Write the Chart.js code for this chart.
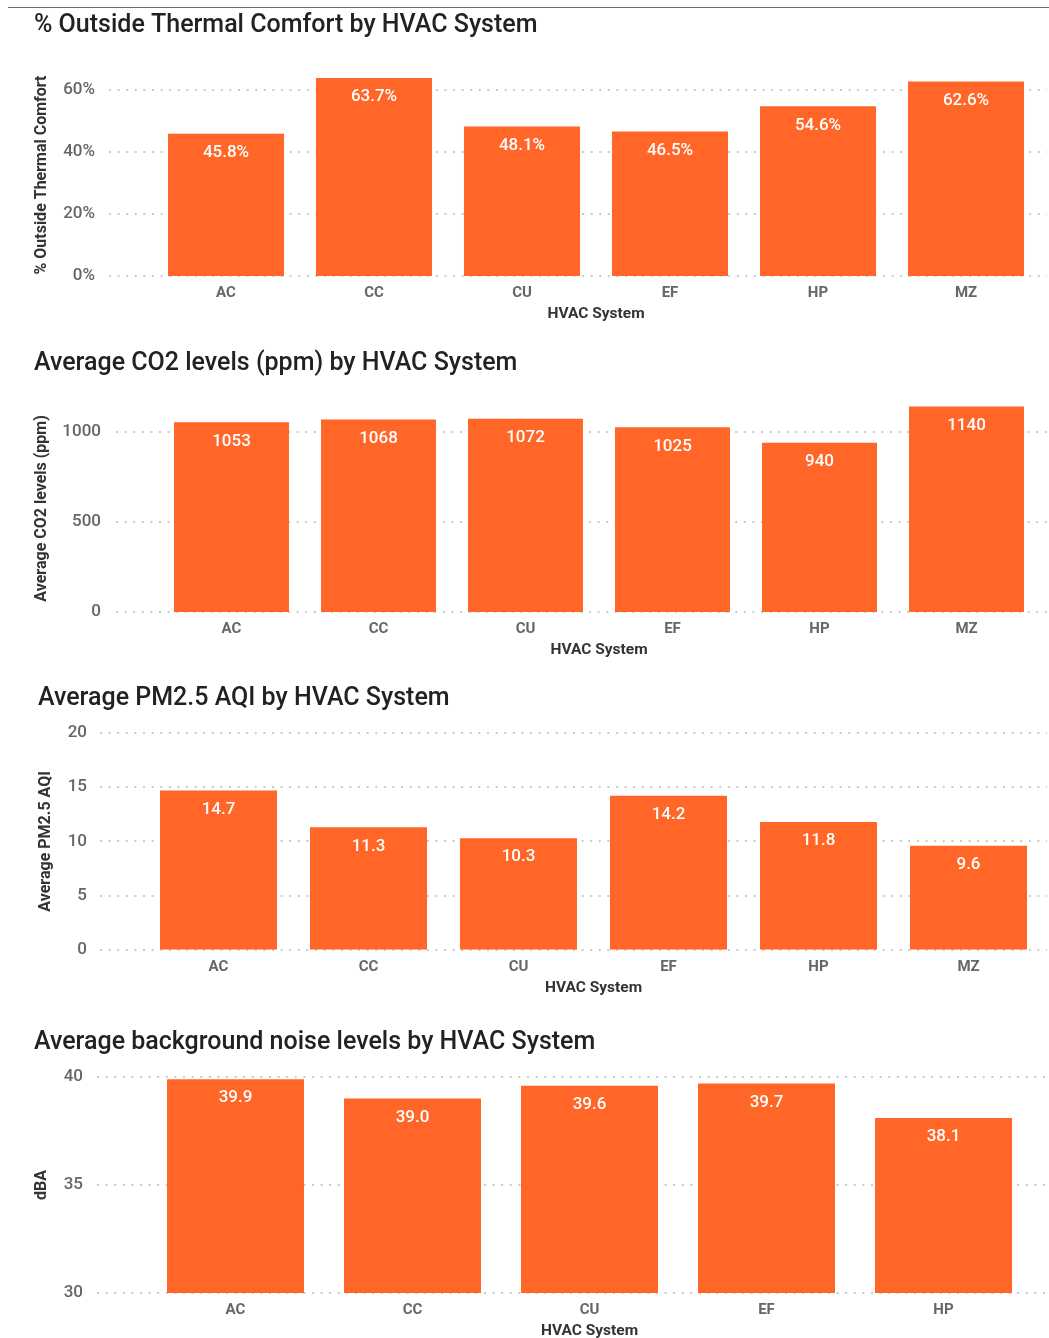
<!DOCTYPE html>
<html>
<head>
<meta charset="utf-8">
<script src="https://cdn.jsdelivr.net/npm/chart.js@4.4.1/dist/chart.umd.min.js"></script>
<style>
  body { margin: 0; background: #fff; width: 1049px; height: 1338px; position: relative; overflow: hidden; }
  canvas { position: absolute; left: 0; }
  #rule { position: absolute; left: 8px; top: 7px; width: 1041px; height: 0; border-top: 1px solid #6e6e6e; z-index: 2; }
</style>
</head>
<body>
<div id="rule"></div>
<canvas id="c1" width="1049" height="335" style="top:0px"></canvas>
<canvas id="c2" width="1049" height="335" style="top:335px"></canvas>
<canvas id="c3" width="1049" height="340" style="top:670px"></canvas>
<canvas id="c4" width="1049" height="331" style="top:1010px"></canvas>
<script>
// data
const systems = ['AC', 'CC', 'CU', 'EF', 'HP', 'MZ'];
const noiseSystems = ['AC', 'CC', 'CU', 'EF', 'HP'];
const thermalPct = [45.8, 63.7, 48.1, 46.5, 54.6, 62.6];
const co2Ppm = [1053, 1068, 1072, 1025, 940, 1140];
const pm25Aqi = [14.7, 11.3, 10.3, 14.2, 11.8, 9.6];
const noiseDba = [39.9, 39.0, 39.6, 39.7, 38.1];

// y tick values shown on each chart
const thermalTicks = [0, 20, 40, 60];
const co2Ticks = [0, 500, 1000];
const pm25Ticks = [0, 5, 10, 15, 20];
const noiseTicks = [30, 35, 40];

const FONT = 'Roboto, "Liberation Sans", sans-serif';
const ORANGE = '#ff6628';
Chart.defaults.font.family = FONT;

// dotted horizontal grid, runs past the plot area on both sides like the original
const dottedGrid = {
  id: 'dottedGrid',
  beforeDatasetsDraw(chart, args, opts) {
    const y = chart.scales.y, ctx = chart.ctx;
    ctx.save();
    ctx.strokeStyle = '#cacaca';
    ctx.lineWidth = 2;
    ctx.setLineDash([2, 6.6]);
    y.ticks.forEach(t => {
      const py = Math.round(y.getPixelForValue(t.value));
      ctx.beginPath();
      ctx.moveTo(opts.start, py);
      ctx.lineTo(chart.width - 2, py);
      ctx.stroke();
    });
    ctx.restore();
  }
};

// white value labels inside the top of each bar
const barLabels = {
  id: 'barLabels',
  afterDatasetsDraw(chart, args, opts) {
    const ctx = chart.ctx, ds = chart.data.datasets[0];
    ctx.save();
    ctx.font = '500 17px ' + FONT;
    ctx.fillStyle = '#fff';
    ctx.textAlign = 'center';
    ctx.textBaseline = 'middle';
    chart.getDatasetMeta(0).data.forEach((bar, i) => {
      ctx.fillText(opts.format(ds.data[i]), bar.x, bar.y + 19);
    });
    ctx.restore();
  }
};

function makeChart(id, o) {
  return new Chart(document.getElementById(id), {
    type: 'bar',
    data: {
      labels: o.labels,
      datasets: [{ data: o.values, backgroundColor: ORANGE, barPercentage: o.barPct, categoryPercentage: 1 }]
    },
    plugins: [dottedGrid, barLabels],
    options: {
      responsive: false,
      animation: false,
      layout: { padding: { left: o.left, right: o.right, top: 0, bottom: o.bottom } },
      plugins: {
        legend: { display: false },
        tooltip: { enabled: false },
        title: {
          display: true, text: o.title, align: 'start', color: '#222',
          font: { size: 25, weight: '500', lineHeight: 1.2 },
          padding: { top: o.titleTop, bottom: o.titleBottom }
        },
        dottedGrid: { start: o.gridStart },
        barLabels: { format: o.fmt }
      },
      scales: {
        x: {
          grid: { display: false, drawTicks: false },
          border: { display: false },
          ticks: { color: '#666', padding: 8, font: { size: 15, weight: 'bold', lineHeight: 1.2 } },
          title: { display: true, text: 'HVAC System', color: '#333', font: { size: 15.5, weight: 'bold', lineHeight: 1.2 }, padding: { top: -5, bottom: 0 } }
        },
        y: {
          min: o.min, max: o.max,
          // hidden tick marks only push the labels away from the plot
          grid: { display: false, drawTicks: true, tickLength: o.tickGap },
          border: { display: false },
          afterFit: s => { s.width = o.axisWidth; },
          afterBuildTicks: s => { s.ticks = o.ticks.map(v => ({ value: v })); },
          ticks: {
            color: '#666', padding: 6,
            font: { size: 17, weight: '500' },
            callback: o.tickFmt
          },
          title: { display: true, text: o.yTitle, color: '#333', font: { size: 16, weight: 'bold', lineHeight: 1 }, padding: 0 }
        }
      }
    }
  });
}

makeChart('c1', {
  labels: systems, values: thermalPct, ticks: thermalTicks, barPct: 0.784,
  title: '% Outside Thermal Comfort by HVAC System', yTitle: '% Outside Thermal Comfort',
  min: 0, max: 65, tickFmt: v => v + '%', fmt: v => v.toFixed(1) + '%',
  left: 34, right: 9, bottom: 11.4, axisWidth: 118, tickGap: 51, gridStart: 109,
  titleTop: 11, titleBottom: 33
});

makeChart('c2', {
  labels: systems, values: co2Ppm, ticks: co2Ticks, barPct: 0.782,
  title: 'Average CO2 levels (ppm) by HVAC System', yTitle: 'Average CO2 levels (ppm)',
  min: 0, max: 1150, tickFmt: v => v, fmt: v => String(v),
  left: 34, right: 9, bottom: 10.4, axisWidth: 124, tickGap: 51, gridStart: 116,
  titleTop: 13.5, titleBottom: 26.3
});

makeChart('c3', {
  labels: systems, values: pm25Aqi, ticks: pm25Ticks, barPct: 0.78,
  title: 'Average PM2.5 AQI by HVAC System', yTitle: 'Average PM2.5 AQI',
  min: 0, max: 20, tickFmt: v => v, fmt: v => v.toFixed(1),
  left: 38, right: 5.5, bottom: 12.6, axisWidth: 105.5, tickGap: 50.5, gridStart: 100,
  titleTop: 13.5, titleBottom: 19.5
});

makeChart('c4', {
  labels: noiseSystems, values: noiseDba, ticks: noiseTicks, barPct: 0.774,
  title: 'Average background noise levels by HVAC System', yTitle: 'dBA',
  min: 30, max: 40, tickFmt: v => v, fmt: v => v.toFixed(1),
  left: 34, right: 17, bottom: 0.4, axisWidth: 113, tickGap: 58, gridStart: 97,
  titleTop: 17.5, titleBottom: 19.5
});
</script>
</body>
</html>
